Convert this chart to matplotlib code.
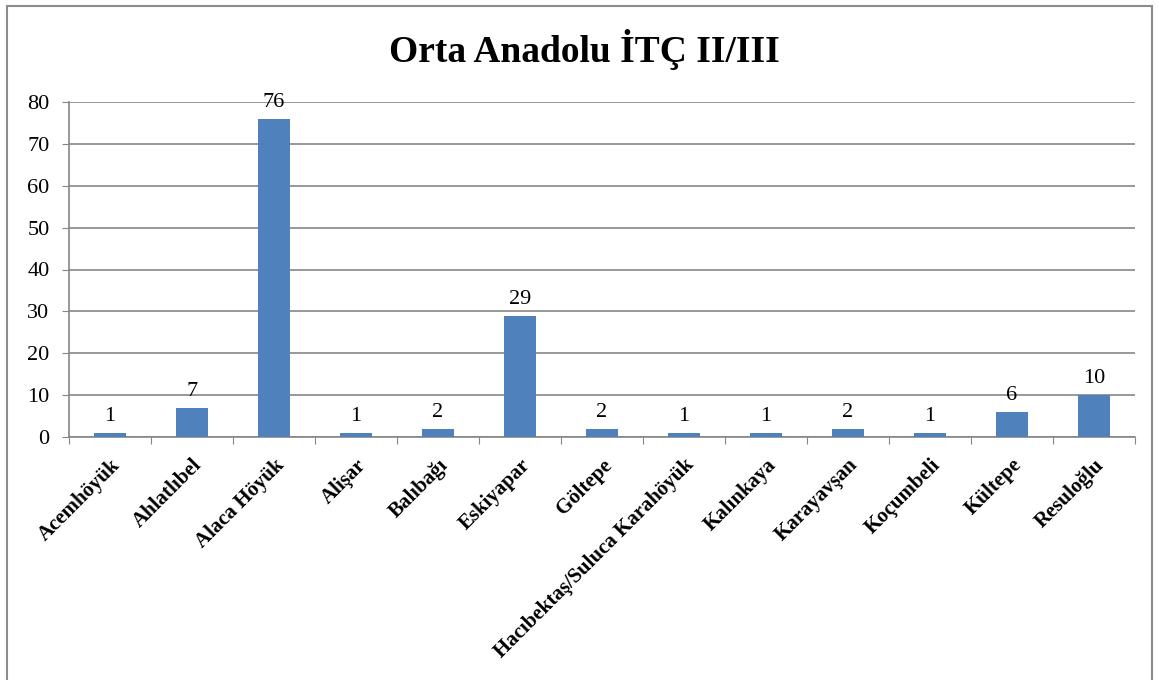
import matplotlib
matplotlib.use("Agg")
import matplotlib.pyplot as plt
from matplotlib.patches import Rectangle
import numpy as np

categories = ["Acemhöyük", "Ahlatlıbel", "Alaca Höyük", "Alişar", "Balıbağı", "Eskiyapar",
              "Göltepe", "Hacıbektaş/Suluca Karahöyük", "Kalınkaya", "Karayavşan",
              "Koçumbeli", "Kültepe", "Resuloğlu"]
values = [1, 7, 76, 1, 2, 29, 2, 1, 1, 2, 1, 6, 10]
yticks = [0, 10, 20, 30, 40, 50, 60, 70, 80]
title = "Orta Anadolu İTÇ II/III"

plt.rcParams['font.family'] = ['Liberation Serif', 'DejaVu Serif']

W, H = 1159, 680
fig = plt.figure(figsize=(W/100, H/100), dpi=100)
fig.patches.append(Rectangle((7/W, -0.01), (1152-7)/W, 1.01 - 6/H, transform=fig.transFigure,
                             fill=False, edgecolor='#8c8c8c', linewidth=1.5))
ax = fig.add_axes([69/W, 1-437/H, (1135-69)/W, (437-102)/H])

x = np.arange(len(categories))
bars = ax.bar(x, values, width=0.4, color='#4f81bd', zorder=3)
for xi, v in zip(x, values):
    ax.annotate(str(v), (xi, v), xytext=(0, 5), textcoords='offset points',
                ha='center', va='bottom', fontsize=16)

ax.set_xlim(-0.5, len(categories)-0.5)
ax.set_ylim(0, 80)
ax.set_yticks(yticks)
ax.set_yticklabels([str(t) for t in yticks], fontsize=16)
ax.yaxis.grid(True, color='#868686', linewidth=1.2, zorder=0)
ax.set_axisbelow(True)
for s in ['top', 'right']:
    ax.spines[s].set_visible(False)
for s in ['left', 'bottom']:
    ax.spines[s].set_color('#868686')
    ax.spines[s].set_linewidth(1.2)
ax.tick_params(axis='y', length=5, color='#868686', pad=9)
ax.set_xticks(np.arange(-0.5, len(categories), 1.0))
ax.set_xticklabels([])
ax.tick_params(axis='x', which='major', length=5, color='#868686')
ax.set_xticks(x, minor=True)
ax.set_xticklabels(categories, minor=True, rotation=45, ha='right', rotation_mode='anchor',
                   fontsize=15, fontweight='bold')
ax.tick_params(axis='x', which='minor', length=0, pad=13)

fig.text(584/W, 1-50/H, title, ha='center', va='center', fontsize=27, fontweight='bold')

fig.savefig('out.png', dpi=100)
